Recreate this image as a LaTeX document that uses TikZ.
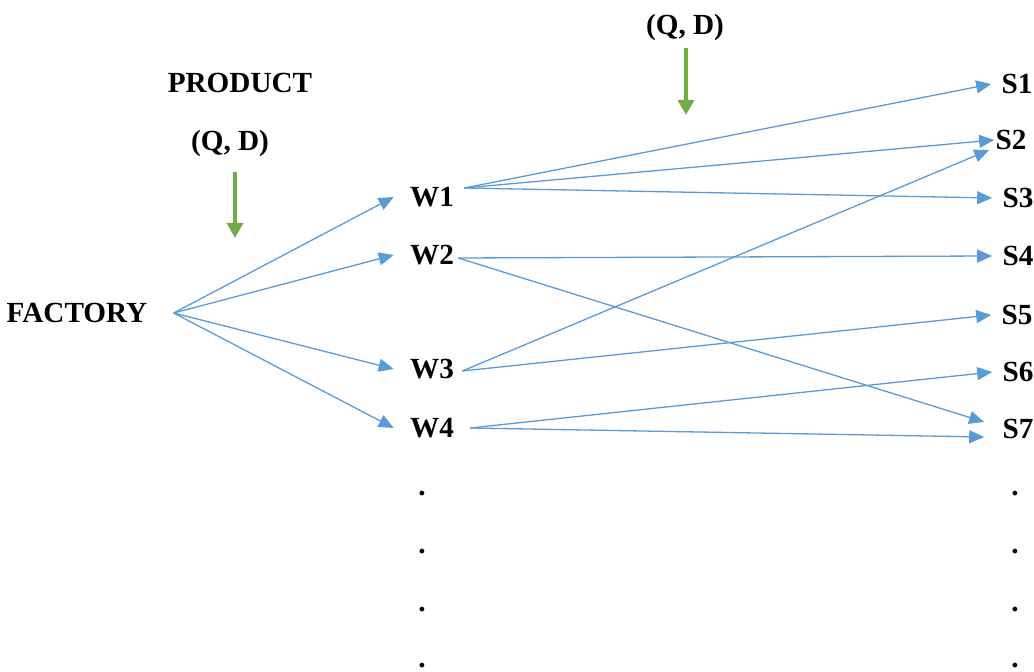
\documentclass[tikz,border=0pt]{standalone}
\usepackage{fontspec}
\setmainfont{Liberation Serif}
\usetikzlibrary{arrows.meta,calc}

\definecolor{flowblue}{RGB}{91,155,213}
\definecolor{supplygreen}{RGB}{112,173,71}

\begin{document}
\begin{tikzpicture}[
    x=0.5pt, y=-0.5pt,
    txt/.style={font=\fontsize{14.6}{16}\selectfont\bfseries, inner sep=0pt},
    site/.style={txt, inner xsep=8pt},
    store/.style={txt, inner xsep=5pt},
    flow/.style={-{Triangle[length=7.5pt,width=6.5pt]}, draw=flowblue, line width=0.65pt},
    supply/.style={-{Triangle[length=7.5pt,width=8pt]}, draw=supplygreen, line width=1.7pt, shorten <=7.5pt}
  ]
  \useasboundingbox (0,0) rectangle (1034,672);
  % Nodes -- source side
  \node[txt] (prod) at (240,83) {PRODUCT};
  \node[txt] (qdl) at (230,143) {(Q, D)};
  \node[txt, inner xsep=13pt] (fac) at (77,313) {FACTORY};
  \coordinate (gl) at (235,238);
  % warehouses
  \node[site] (w1) at (432,197) {W1};
  \node[site] (w2) at (432,255) {W2};
  \node[site] (w3) at (432,369) {W3};
  \node[site] (w4) at (432,428) {W4};
  % demand on top
  \node[txt] (qdt) at (685,27) {(Q, D)};
  \coordinate (gt) at (686,115);
  % stores
  \node[store] (s1) at (1017,84) {S1};
  \node[txt, inner xsep=0.5pt] (s2) at (1011,140) {S2};
  \node[store] (s3) at (1018,198) {S3};
  \node[store] (s4) at (1018,256) {S4};
  \node[store] (s5) at (1017,315) {S5};
  \node[store] (s6) at (1018,372) {S6};
  \node[txt, inner xsep=9pt] (s7) at (1018,429) {S7};
  % dots below
  \foreach \y in {494,552,610,666} {
    \node[txt] (dl\y) at (422,\y) {.};
    \node[txt] (dr\y) at (1015,\y) {.};
  }
  % Arrows -- factory to warehouses
  \draw[flow] (fac.east) -- (w1.west);
  \draw[flow] (fac.east) -- (w2.west);
  \draw[flow] (fac.east) -- (w3.west);
  \draw[flow] (fac.east) -- (w4.west);
  % warehouses to stores
  \draw[flow] ([shift={(-6,-9)}]w1.east) -- (s1.west);
  \draw[flow] ([shift={(-6,-9)}]w1.east) -- (s2.west);
  \draw[flow] ([shift={(-6,-9)}]w1.east) -- (s3.west);
  \draw[flow] ([shift={(-12,3)}]w2.east) -- (s4.west);
  \draw[flow] ([shift={(-12,3)}]w2.east) -- ([shift={(0,-7)}]s7.west);
  \draw[flow] ([shift={(-8,2)}]w3.east) -- ([shift={(-5,10)}]s2.west);
  \draw[flow] ([shift={(-8,2)}]w3.east) -- (s5.west);
  \draw[flow] (w4.east) -- (s6.west);
  \draw[flow] (w4.east) -- ([shift={(0,8)}]s7.west);
  % green inputs
  \draw[supply] (gl |- qdl.south) -- (gl);
  \draw[supply, shorten <=3.5pt] (gt |- qdt.south) -- (gt);
\end{tikzpicture}
\end{document}
